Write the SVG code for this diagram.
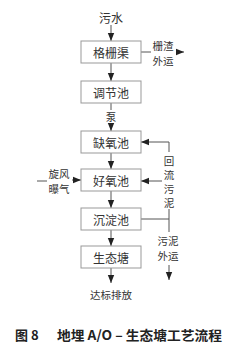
<svg xmlns="http://www.w3.org/2000/svg" width="240" height="347" viewBox="0 0 240 347">
<style>
.box{fill:#fff;stroke:#999;stroke-width:1}
.lbl{font-family:"Noto Sans CJK SC","Noto Sans",sans-serif;fill:#333;text-anchor:middle;dominant-baseline:central}
.bt{font-size:12px}
.st{font-size:10.5px}
.ln{stroke:#555;stroke-width:1;fill:none}
.cap{font-family:"Noto Sans CJK SC","Noto Sans",sans-serif;font-size:13px;font-weight:bold;fill:#222;dominant-baseline:central}
</style>
<defs>
<marker id="ah" markerUnits="userSpaceOnUse" markerWidth="8" markerHeight="8" viewBox="0 0 8 8" refX="8" refY="4" orient="auto">
<path d="M0,0.8 L8,4 L0,7.2 Z" fill="#222"/>
</marker>
</defs>
<rect width="240" height="347" fill="#fff"/>
<g id="connectors">
<line class="ln" x1="111" y1="25" x2="111" y2="41" marker-end="url(#ah)"/>
<line class="ln" x1="111" y1="63" x2="111" y2="81" marker-end="url(#ah)"/>
<line class="ln" x1="111" y1="103" x2="111" y2="110"/>
<line class="ln" x1="111" y1="123" x2="111" y2="131" marker-end="url(#ah)"/>
<line class="ln" x1="111" y1="153" x2="111" y2="169" marker-end="url(#ah)"/>
<line class="ln" x1="111" y1="191" x2="111" y2="208" marker-end="url(#ah)"/>
<line class="ln" x1="111" y1="230" x2="111" y2="246" marker-end="url(#ah)"/>
<line class="ln" x1="111" y1="268" x2="111" y2="283" marker-end="url(#ah)"/>
<line class="ln" x1="141" y1="52" x2="151" y2="52"/>
<line class="ln" x1="176" y1="52" x2="184" y2="52" marker-end="url(#ah)"/>
<polyline class="ln" points="169,152 169,142 141,142" marker-end="url(#ah)"/>
<line class="ln" x1="162" y1="181" x2="141" y2="181" marker-end="url(#ah)"/>
<line class="ln" x1="141" y1="219" x2="169" y2="219"/>
<line class="ln" x1="169" y1="209" x2="169" y2="232"/>
<line class="ln" x1="169" y1="265" x2="169" y2="280" marker-end="url(#ah)"/>
<line class="ln" x1="37" y1="181" x2="47" y2="181"/>
<line class="ln" x1="72" y1="180" x2="81" y2="180" marker-end="url(#ah)"/>
</g>
<g id="inflow"><text class="lbl bt" x="111" y="17">污水</text></g>
<g id="n1"><rect class="box" x="81" y="41" width="60" height="22"/><text class="lbl bt" x="111" y="52">格栅渠</text></g>
<g id="n2"><rect class="box" x="81" y="81" width="60" height="22"/><text class="lbl bt" x="111" y="92">调节池</text></g>
<g id="pump"><text class="lbl st" x="111" y="116.5">泵</text></g>
<g id="n3"><rect class="box" x="81" y="131" width="60" height="22"/><text class="lbl bt" x="111" y="142">缺氧池</text></g>
<g id="n4"><rect class="box" x="81" y="169" width="60" height="22"/><text class="lbl bt" x="111" y="180">好氧池</text></g>
<g id="n5"><rect class="box" x="81" y="208" width="60" height="22"/><text class="lbl bt" x="111" y="219">沉淀池</text></g>
<g id="n6"><rect class="box" x="81" y="246" width="60" height="22"/><text class="lbl bt" x="111" y="257">生态塘</text></g>
<g id="outflow"><text class="lbl st" x="111" y="294">达标排放</text></g>
<g id="screenings"><text class="lbl st" x="163" y="45">栅渣</text><text class="lbl st" x="163" y="60">外运</text></g>
<g id="aeration"><text class="lbl st" x="59" y="173">旋风</text><text class="lbl st" x="59" y="188">曝气</text></g>
<g id="return"><text class="lbl st" x="169" y="160">回</text><text class="lbl st" x="169" y="174">流</text><text class="lbl st" x="169" y="188">污</text><text class="lbl st" x="169" y="202">泥</text></g>
<g id="sludge"><text class="lbl st" x="168" y="240">污泥</text><text class="lbl st" x="168" y="255">外运</text></g>
<g id="caption">
<text class="cap" x="15" y="334">图 8</text>
<text class="cap" x="57" y="334" textLength="165" lengthAdjust="spacingAndGlyphs">地埋 A/O – 生态塘工艺流程</text>
</g>
</svg>
